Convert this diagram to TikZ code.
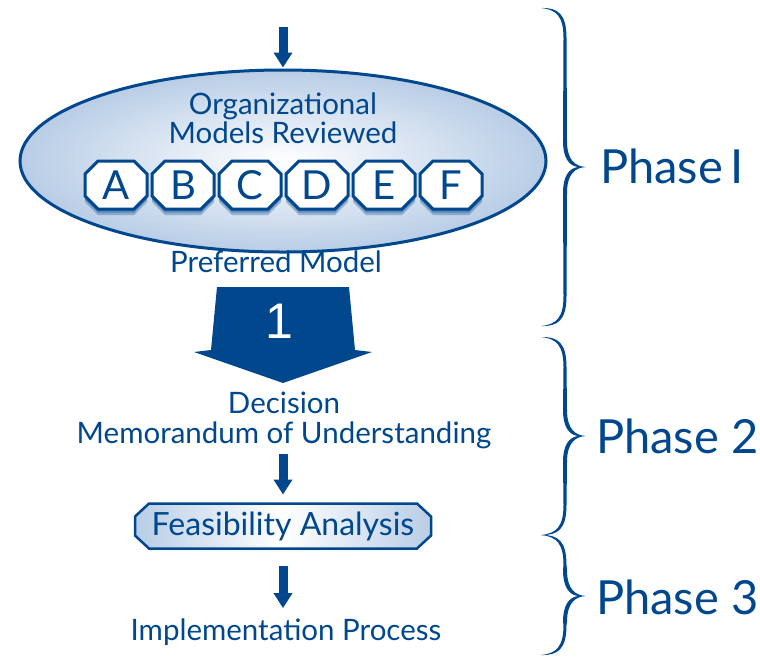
\documentclass[tikz,border=0pt]{standalone}
\usepackage{fontspec}
\setmainfont{Lato}
\newfontfamily\digitfont{Liberation Sans}
\usetikzlibrary{shapes.geometric,arrows.meta,shadows}
\definecolor{dblue}{HTML}{00478D}
\definecolor{lblue}{HTML}{B8CDE6}
\newdimen\oxa \newdimen\oya \newdimen\oxb \newdimen\oyb \newdimen\ocx \newdimen\ocy
\pgfkeys{/pgf/octo cx/.initial=10pt, /pgf/octo cy/.initial=10pt}
\makeatletter
\pgfdeclareshape{octobox}{%
  \inheritsavedanchors[from=rectangle]
  \inheritanchorborder[from=rectangle]
  \inheritanchor[from=rectangle]{center}
  \inheritanchor[from=rectangle]{north}
  \inheritanchor[from=rectangle]{south}
  \inheritanchor[from=rectangle]{east}
  \inheritanchor[from=rectangle]{west}
  \inheritanchor[from=rectangle]{north east}
  \inheritanchor[from=rectangle]{north west}
  \inheritanchor[from=rectangle]{south east}
  \inheritanchor[from=rectangle]{south west}
  \inheritanchor[from=rectangle]{base}
  \inheritanchor[from=rectangle]{mid}
  \inheritanchor[from=rectangle]{text}
  \backgroundpath{%
    \southwest \oxa=\pgf@x \oya=\pgf@y
    \northeast \oxb=\pgf@x \oyb=\pgf@y
    \pgfmathsetlength\ocx{\pgfkeysvalueof{/pgf/octo cx}}%
    \pgfmathsetlength\ocy{\pgfkeysvalueof{/pgf/octo cy}}%
    \pgfpathmoveto{\pgfqpoint{\dimexpr\oxa+\ocx\relax}{\oya}}%
    \pgfpathlineto{\pgfqpoint{\dimexpr\oxb-\ocx\relax}{\oya}}%
    \pgfpathlineto{\pgfqpoint{\oxb}{\dimexpr\oya+\ocy\relax}}%
    \pgfpathlineto{\pgfqpoint{\oxb}{\dimexpr\oyb-\ocy\relax}}%
    \pgfpathlineto{\pgfqpoint{\dimexpr\oxb-\ocx\relax}{\oyb}}%
    \pgfpathlineto{\pgfqpoint{\dimexpr\oxa+\ocx\relax}{\oyb}}%
    \pgfpathlineto{\pgfqpoint{\oxa}{\dimexpr\oyb-\ocy\relax}}%
    \pgfpathlineto{\pgfqpoint{\oxa}{\dimexpr\oya+\ocy\relax}}%
    \pgfpathclose
  }%
}
\makeatother
\newcommand{\phasebrace}[3]{%
 \fill[bracefill]
 (541,#1) .. controls (558,#1-0.5) and (566.5,#1+6) .. (566.5,#1+30)
 -- (567,#2-26)
 .. controls (567,#2-7) and (575,#2-0.6) .. (586,#2)
 .. controls (575,#2+0.6) and (567,#2+7) .. (567,#2+26)
 -- (566.5,#3-30)
 .. controls (566.5,#3-6) and (558,#3+0.5) .. (541,#3)
 .. controls (557,#3-1.5) and (563.5,#3-9) .. (563.5,#3-30)
 -- (563,#2+26)
 .. controls (563,#2+9) and (569,#2+1.2) .. (578,#2)
 .. controls (569,#2-1.2) and (563,#2-9) .. (563,#2-26)
 -- (563.5,#1+30)
 .. controls (563.5,#1+9) and (557,#1+1.5) .. (541,#1)
 -- cycle;}
\begin{document}
\begin{tikzpicture}[x=1pt,y=-1pt,
  lbl/.style={text=dblue, inner sep=0pt, font=\fontsize{29.5}{31}\selectfont},
  phaselbl/.style={text=dblue, inner sep=0pt, anchor=base west, font=\fontsize{47}{50}\selectfont},
  letterbox/.style={shape=octobox, /pgf/octo cx=13pt, /pgf/octo cy=13pt, outer sep=0pt,
     draw=dblue, line width=3pt, fill=white, minimum width=62pt, minimum height=48pt, inner sep=0pt,
     text=dblue, font=\fontsize{40}{42}\selectfont,
     general shadow={fill=dblue, opacity=0.3, shadow xshift=0pt, shadow yshift=-6pt},
     general shadow={fill=dblue, opacity=0.35, shadow xshift=0pt, shadow yshift=-3.5pt}},
  modelsbox/.style={ellipse, draw=dblue, line width=3pt, inner color=white, outer color=lblue,
     minimum width=526pt, minimum height=182pt, inner sep=0pt},
  feasbox/.style={shape=octobox, /pgf/octo cx=14pt, /pgf/octo cy=13pt, outer sep=0pt,
     draw=dblue, line width=2.5pt, left color=lblue, right color=lblue, middle color=white,
     minimum width=296pt, minimum height=45pt, inner sep=0pt, text=dblue, font=\fontsize{32}{34}\selectfont},
  flowarrow/.style={draw=dblue, line width=9pt, -{Triangle[width=18pt,length=15pt]}},
  bigarrow/.style={fill=dblue},
  bracefill/.style={fill=dblue}
]
\useasboundingbox (0,0) rectangle (760,657);

% Phase 1
\coordinate (start) at (283,27);
\node[modelsbox] (models) at (283,161) {};
\draw[flowarrow, shorten >=1pt] (start) -- (models.north);
\node[lbl, anchor=base] (org1) at (283,114) {Organizational};
\node[lbl, anchor=base] (org2) at (283,143) {Models Reviewed};
\node[letterbox] (A) at (116,185) {A};
\node[letterbox] (B) at (183,185) {B};
\node[letterbox] (C) at (250,185) {C};
\node[letterbox] (D) at (317,185) {D};
\node[letterbox] (E) at (384,185) {E};
\node[letterbox] (F) at (451,185) {F};
\node[lbl, anchor=base] (pref) at (276,272) {Preferred Model};

% big arrow
\fill[bigarrow] (217,287) -- (349,287) -- (355,350) -- (372,352) -- (283,383) -- (194,352) -- (211,350) -- cycle;
\node[text=white, inner sep=0pt, font=\digitfont\fontsize{50}{52}\selectfont] (one) at (279,321) {1};

% Phase 2
\node[lbl, anchor=base] (dec) at (284,413) {Decision};
\node[lbl, anchor=base] (memo) at (284,443) {Memorandum of Understanding};
\node[feasbox] (feas) at (283,526) {Feasibility Analysis};
\draw[flowarrow] ([yshift=-5pt]feas.north |- memo.south) -- ([yshift=9pt]feas.north);

% Phase 3
\node[lbl, anchor=base] (impl) at (286,640) {Implementation Process};
\draw[flowarrow] ([yshift=-17pt]feas.south) -- ([yshift=10pt]feas.south |- impl.north);

% braces
\phasebrace{8}{167}{326}
\phasebrace{337}{436}{535}
\phasebrace{535}{596}{655}
\node[phaselbl] (p1) at (600,183) {Phase\hspace{7pt}I};
\node[phaselbl] (p2) at (596,453) {Phase 2};
\node[phaselbl] (p3) at (596,614) {Phase 3};
\end{tikzpicture}
\end{document}
